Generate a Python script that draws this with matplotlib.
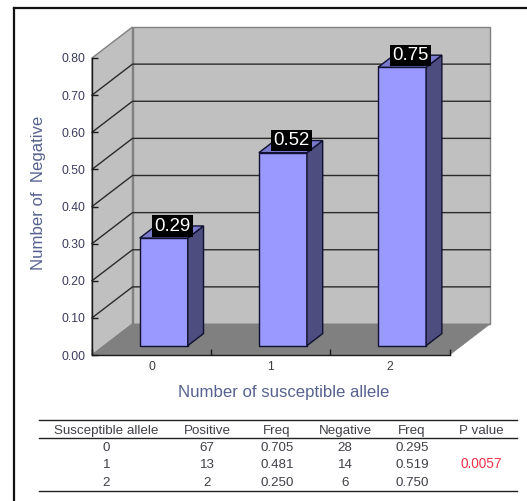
import matplotlib
matplotlib.use("Agg")
import matplotlib.pyplot as plt
from matplotlib.lines import Line2D

plt.rcParams['font.family'] = ['Liberation Sans', 'DejaVu Sans']

# chart data
alleles = ['0', '1', '2']
neg_freq = [0.29, 0.52, 0.75]
y_ticks = [0.0, 0.1, 0.2, 0.3, 0.4, 0.5, 0.6, 0.7, 0.8]

# table under the chart
col_names = ['Susceptible allele', 'Positive', 'Freq', 'Negative', 'Freq', 'P value']
col_allele = ['0', '1', '2']
col_pos = ['67', '13', '2']
col_pos_freq = ['0.705', '0.481', '0.250']
col_neg = ['28', '14', '6']
col_neg_freq = ['0.295', '0.519', '0.750']
p_value = '0.0057'

W, H = 527, 501
fig = plt.figure(figsize=(W / 100, H / 100), dpi=100, facecolor='white')

# front plane of the box, in pixels
left, right, top, bottom = 92, 449.5, 58, 355
ax = fig.add_axes([left / W, 1 - bottom / H, (right - left) / W, (bottom - top) / H])
ax.patch.set_alpha(0)
ax.set_xlim(0, 3)
ax.set_ylim(0, 0.8)

# how far the box recedes, in data units
dx = 40.5 / ((right - left) / 3)
dy = 31 / ((bottom - top) / 0.8)

wall = '#c0c0c0'
edge = '#808080'

# back wall, side wall, floor
ax.fill([dx, 3 + dx, 3 + dx, dx], [dy, dy, 0.8 + dy, 0.8 + dy], fc=wall, ec=edge, lw=1, clip_on=False, zorder=1)
ax.fill([0, dx, dx, 0], [0, dy, 0.8 + dy, 0.8], fc=wall, ec=edge, lw=1, clip_on=False, zorder=1)
ax.fill([0, 3, 3 + dx, dx], [0, 0, dy, dy], fc='#808080', ec='#808080', lw=0.5, clip_on=False, zorder=1)

# gridlines run across the side wall and the back wall
for v in y_ticks[1:-1]:
    ax.plot([0, dx, 3 + dx], [v, v + dy, v + dy], color='#2a2a2a', lw=1, clip_on=False, zorder=1.5)

# bars: front face from the axes, side and top as polygons
width = 48 / ((right - left) / 3)
side = 0.39
start = 0.3
xs = [i + 0.5 + start * dx for i in range(len(alleles))]
y0 = start * dy
ax.bar(xs, neg_freq, width=width, bottom=y0, color='#9999ff', edgecolor='#101030', lw=1, clip_on=False, zorder=3)
for x, v in zip(xs, neg_freq):
    l, r = x - width / 2, x + width / 2
    t = v + y0
    ax.fill([r, r + side * dx, r + side * dx, r], [y0, y0 + side * dy, t + side * dy, t],
            fc='#4d4d80', ec='#101030', lw=1, clip_on=False, zorder=3)
    ax.fill([l, r, r + side * dx, l + side * dx], [t, t, t + side * dy, t + side * dy],
            fc='#7a7acc', ec='#101030', lw=1, clip_on=False, zorder=3)
    ax.annotate(f'{v:.2f}', xy=(x, t), xytext=(8.5, 12), textcoords='offset pixels', ha='center', va='center',
                fontsize=13.4, color='white', zorder=5, annotation_clip=False,
                bbox=dict(boxstyle='square,pad=0.12', fc='black', ec='none'))

# axes
for s in ['top', 'right']:
    ax.spines[s].set_visible(False)
for s in ['left', 'bottom']:
    ax.spines[s].set_color('#1a1a1a')
    ax.spines[s].set_linewidth(1)
    ax.spines[s].set_zorder(2)

ax.set_yticks(y_ticks)
ax.set_yticklabels([f'{v:.2f}' for v in y_ticks])
ax.tick_params(axis='y', direction='in', length=4, width=1, color='#1a1a1a', pad=5, labelsize=8.7, labelcolor='#3c3c5e')
ax.set_xticks([0, 1, 2, 3])
ax.set_xticklabels([])
ax.tick_params(axis='x', direction='in', length=4, width=1, color='#1a1a1a')
ax.set_xticks([0.5, 1.5, 2.5], minor=True)
ax.set_xticklabels(alleles, minor=True)
ax.tick_params(axis='x', which='minor', length=0, pad=4.5, labelsize=8.7, labelcolor='#3c3c3c')

txt = '#56628f'
fig.text(284 / W, 1 - 392 / H, 'Number of susceptible allele', ha='center', va='center', fontsize=12.1, color=txt)
fig.text(38.5 / W, 1 - 193 / H, 'Number of  Negative', ha='center', va='center', rotation=90, fontsize=12.1, color=txt)

# outer frame, left and top only
for xd, yd in [([13.5, 13.5], [7.5, H]), ([13.5, W], [7.5, 7.5])]:
    fig.add_artist(Line2D([p / W for p in xd], [1 - p / H for p in yd], color='#111111', lw=1.6))

# table rules
for y in [420, 438, 490.5]:
    fig.add_artist(Line2D([39 / W, 517 / W], [1 - y / H, 1 - y / H], color='#222222', lw=1))

# table text
col_x = [106.5, 207, 277, 345, 412, 481.5]
row_y = [448, 465.5, 482.5]
columns = [col_allele, col_pos, col_pos_freq, col_neg, col_neg_freq]
tc = '#404048'
for cx, name in zip(col_x, col_names):
    fig.text(cx / W, 1 - 431 / H, name, ha='center', va='center', fontsize=9.6, color=tc)
for cx, col in zip(col_x, columns):
    for ry, val in zip(row_y, col):
        fig.text(cx / W, 1 - ry / H, val, ha='center', va='center', fontsize=9.6, color=tc)
fig.text(col_x[5] / W, 1 - 464.5 / H, p_value, ha='center', va='center', fontsize=9.8, color='#f0304a')

fig.savefig('out.png', dpi=100)
